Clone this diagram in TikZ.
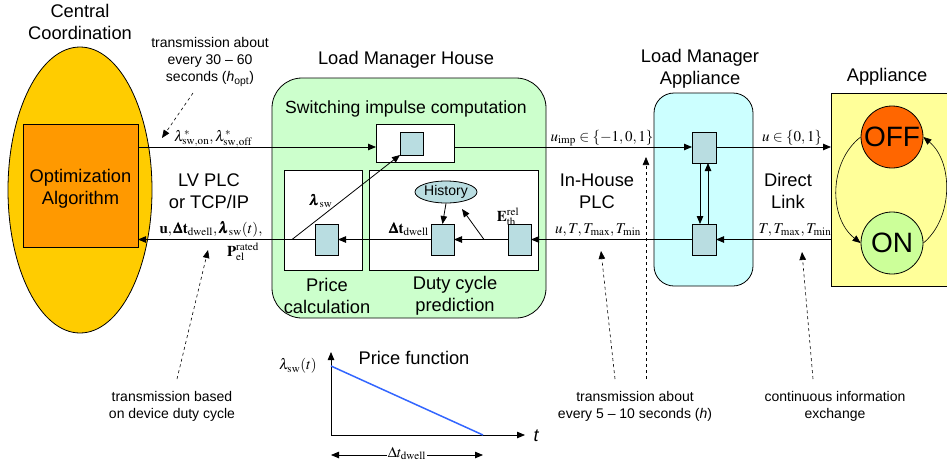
\documentclass[tikz,border=0pt]{standalone}
\usepackage{mathptmx}
\usepackage{amsmath}
\usepackage[no-math]{fontspec}
\setmainfont{Liberation Sans}
\usetikzlibrary{arrows.meta,shapes.geometric}

\definecolor{coordgold}{HTML}{FFCC00}
\definecolor{algorange}{HTML}{FF9900}
\definecolor{housegreen}{HTML}{CCFFCC}
\definecolor{lmacyan}{HTML}{CCFFFF}
\definecolor{unitblue}{HTML}{B9DDE1}
\definecolor{appyellow}{HTML}{FFFF99}
\definecolor{offred}{HTML}{FF6600}
\definecolor{ongreen}{HTML}{CCFF99}
\definecolor{priceblue}{HTML}{3366FF}

\tikzset{
  big/.style={font=\fontsize{18.3}{22}\selectfont, align=center, inner sep=0pt},
  note/.style={font=\fontsize{14}{17}\selectfont, align=center, inner sep=0pt},
  eq/.style={font=\fontsize{15}{17}\selectfont, inner sep=0pt},
  unit/.style={draw, fill=unitblue, minimum width=23, minimum height=31, inner sep=0pt, outer sep=0pt},
  whitebox/.style={draw, fill=white, inner sep=0pt, outer sep=0pt},
  flow/.style={->, line width=0.8pt},
  hint/.style={->, dashed, line width=0.6pt},
}

\begin{document}
\begin{tikzpicture}[x=1pt, y=-1pt, line width=0.8pt,
  >={Triangle[length=8pt,width=6.5pt]}]
\clip (0,0) rectangle (947,461);

% Central coordination
\node[big] (cctitle) at (80,22) {Central\\Coordination};
\node[ellipse, draw, fill=coordgold, minimum width=144, minimum height=286, inner sep=0pt] (cc) at (80,190) {};
\node[draw, fill=algorange, minimum width=115, minimum height=123, inner sep=0pt, outer sep=0pt] (alg) at (80.5,185.5) {};
\node[big] (algtxt) at (80.5,189) {Optimization\\Algorithm};

% Load manager house
\node[big] (lmhtitle) at (406,60) {Load Manager House};
\node[draw, fill=housegreen, rounded corners=30, minimum width=274, minimum height=240, inner sep=0pt, outer sep=0pt] (house) at (409,198) {};
\node[big, font=\fontsize{17.6}{21}\selectfont] (swtitle) at (406,109) {Switching impulse computation};
\node[whitebox, minimum width=78, minimum height=38] (swbox) at (415,143) {};
\node[draw, fill=unitblue, minimum size=23, inner sep=0pt, outer sep=0pt] (swsq) at (411.5,143.5) {};
\node[whitebox, minimum width=78, minimum height=100] (pricebox) at (323,220) {};
\node[whitebox, minimum width=169, minimum height=100] (dutybox) at (453.5,220) {};
\node[unit] (pS) at (326.5,239.5) {};
\node[unit] (dC) at (442.5,239.5) {};
\node[unit] (dR) at (519.5,239.5) {};
\node[ellipse, draw, fill=unitblue, minimum width=62, minimum height=22, inner sep=0pt, font=\fontsize{14}{16}\selectfont] (hist) at (446,192) {History};
\node[big] (pricetxt) at (327,296) {Price\\calculation};
\node[big] (dutytxt) at (455,296) {Duty cycle\\prediction};
\node[eq] (lamsw) at (321,201) {$\pmb{\lambda}_{\mathrm{sw}}$};
\node[eq] (dtd) at (409,229) {$\pmb{\Delta}\mathbf{t}_{\mathrm{dwell}}$};
\node[eq] (eth) at (508,217) {$\mathbf{E}_{\mathrm{th}}^{\mathrm{rel}}$};

% Load manager appliance
\node[big] (lmatitle) at (700,69) {Load Manager\\Appliance};
\node[draw, fill=lmacyan, rounded corners=20, minimum width=99, minimum height=193, inner sep=0pt, outer sep=0pt] (lma) at (703.5,189.5) {};
\node[unit, minimum width=24] (lmaU) at (704,147.5) {};
\node[unit, minimum width=24] (lmaL) at (704,239.5) {};

% Appliance
\node[big] (apptitle) at (887,77) {Appliance};
\node[draw, fill=appyellow, minimum width=158, minimum height=193, inner sep=0pt, outer sep=0pt] (app) at (910,189.5) {};
\node[circle, draw, fill=offred, minimum size=62, inner sep=0pt, font=\fontsize{28}{30}\selectfont] (off) at (892,137) {OFF};
\node[circle, draw, fill=ongreen, minimum size=62, inner sep=0pt, font=\fontsize{28}{30}\selectfont] (on) at (892,243) {ON};
\draw[->, line width=0.6pt] (off.west) .. controls +(-32,25) and +(-32,-25) .. (on.west);
\draw[->, line width=0.6pt] (on.east) .. controls +(30,-25) and +(30,25) .. (off.east);

% Link names
\node[big] (lvplc) at (209,191) {LV PLC\\or TCP/IP};
\node[big] (inplc) at (597,191) {In-House\\PLC};
\node[big] (direct) at (788,191) {Direct\\Link};

% Signal flow
\coordinate (ytop) at (0,147);
\coordinate (ybot) at (0,239.5);
\draw[flow] (alg.east |- ytop) -- (swbox.west |- ytop);
\draw[flow] (swbox.east |- ytop) -- (lmaU.west |- ytop);
\draw[flow] (lmaU.east |- ytop) -- (app.west |- ytop);
\draw[flow] (app.west |- ybot) -- (lmaL.east);
\draw[flow] (lmaL.west) -- (dR.east);
\draw[flow] (dR.west) -- (dC.east);
\draw[flow] (dC.west) -- (pS.east);
\draw[flow] (pS.west) -- (alg.east |- ybot);
\coordinate (split) at (292,239.5);
\draw[flow] (split) -- (swsq.south west);
\draw[flow] (hist.south) -- (dC.north);
\coordinate (ethsrc) at (484,239.5);
\coordinate (ethtip) at (462,209);
\draw[flow] (ethsrc) -- (ethtip);
\draw[flow] ([xshift=-4pt]lmaU.south) -- ([xshift=-4pt]lmaL.north);
\draw[flow] ([xshift=4pt]lmaL.north) -- ([xshift=4pt]lmaU.south);

% Signal labels
\node[eq, anchor=base] (lamstar) at (213,141) {$\lambda^{*}_{\mathrm{sw,on}},\lambda^{*}_{\mathrm{sw,off}}$};
\node[eq, anchor=base] (uimp) at (602,141) {$u_{\mathrm{imp}}\in\{-1,0,1\}$};
\node[eq, anchor=base] (ubin) at (792,141) {$u\in\{0,1\}$};
\node[eq, anchor=base] (upload) at (211,233) {$\mathbf{u},\pmb{\Delta}\mathbf{t}_{\mathrm{dwell}},\pmb{\lambda}_{\mathrm{sw}}(t),$};
\node[eq, anchor=base] (prated) at (243,256) {$\mathbf{P}_{\mathrm{el}}^{\mathrm{rated}}$};
\node[eq, anchor=base] (uT) at (598,233) {$u,T,T_{\mathrm{max}},T_{\mathrm{min}}$};
\node[eq, anchor=base] (Tapp) at (795,233) {$T,T_{\mathrm{max}},T_{\mathrm{min}}$};

% Timing notes
\node[note] (n30) at (210,62) {transmission about\\every 30 -- 60\\seconds (\textit{h}\textsubscript{opt})};
\coordinate (n30tip) at (162,138);
\draw[hint] (193,93) -- (n30tip);
\node[note] (nduty) at (172,406) {transmission based\\on device duty cycle};
\coordinate (ndutytip) at (208,250);
\draw[hint] (177,379) -- (ndutytip);
\node[note] (n5) at (635,406) {transmission about\\every 5 -- 10 seconds (\textit{h})};
\coordinate (n5tipA) at (601,251);
\coordinate (n5tipB) at (646,157);
\draw[hint] (615,379) -- (n5tipA);
\draw[hint] (646,379) -- (n5tipB);
\node[note] (ncont) at (835,406) {continuous information\\exchange};
\coordinate (nconttip) at (802,252);
\draw[hint] (813,379) -- (nconttip);

% Price function
\node[big] (pftitle) at (414,358) {Price function};
\draw[->] (331,435) -- (331,352);
\draw[->] (331,435) -- (525,435);
\draw[priceblue, line width=1.5pt] (331,366) -- (483,435);
\node[big, font=\fontsize{18}{20}\selectfont\itshape] (taxis) at (536,436) {t};
\node[eq] (lamt) at (298,366) {$\lambda_{\mathrm{sw}}(t)$};
\draw[<->] (331,455) -- (483,455);
\node[eq, fill=white, inner sep=1pt] (dtlab) at (407,453.5) {$\Delta t_{\mathrm{dwell}}$};
\end{tikzpicture}
\end{document}
